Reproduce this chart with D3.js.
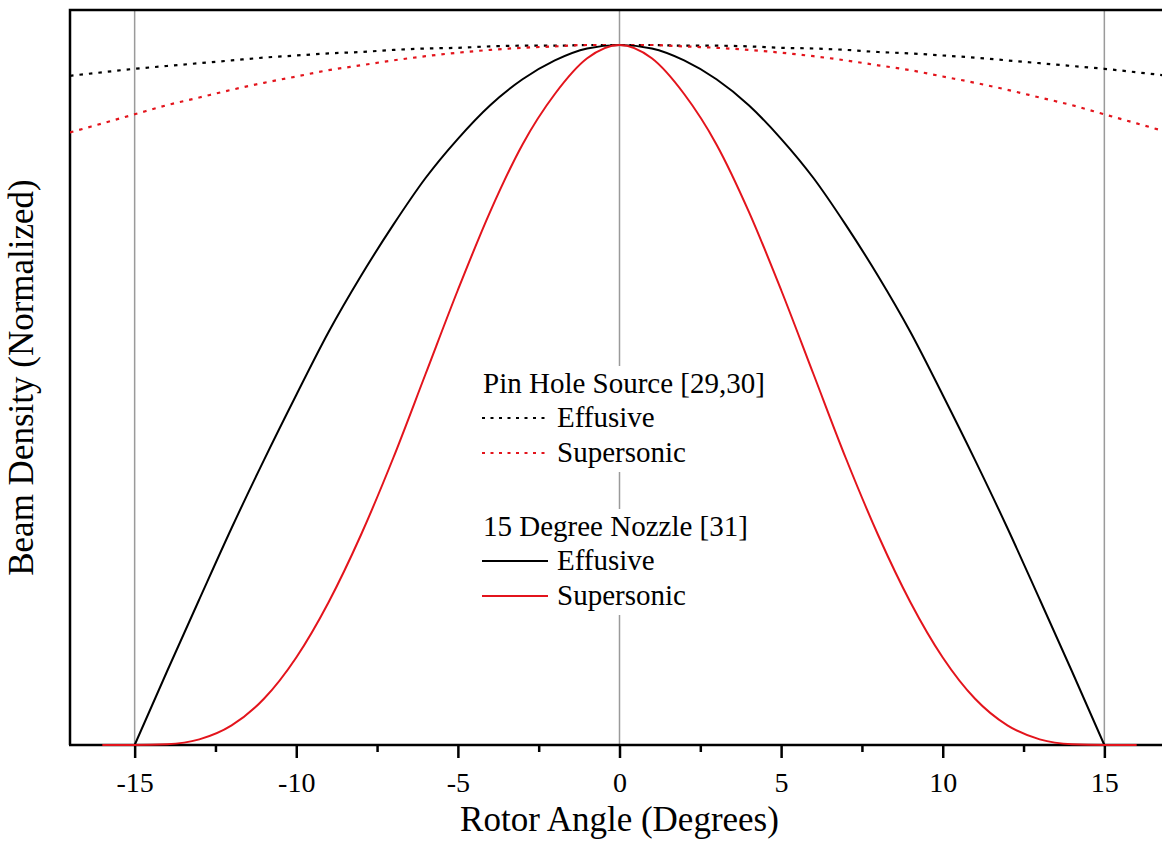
<!DOCTYPE html>
<html>
<head>
<meta charset="utf-8">
<script src="https://cdn.jsdelivr.net/npm/d3@7"></script>
<style>
  body { margin: 0; background: #fff; }
  svg { display: block; font-family: "Liberation Serif", "Times New Roman", serif; }
  svg text { font-family: "Liberation Serif", "Times New Roman", serif; }
</style>
</head>
<body>
<svg id="chart" width="1162" height="846"></svg>
<script>
// values (normalized beam density vs rotor angle)
const pinAngles = [-17, -16, -15, -14, -13, -12, -11, -10, -9, -8, -7, -6, -5, -4, -3, -2, -1, 0,
                   1, 2, 3, 4, 5, 6, 7, 8, 9, 10, 11, 12, 13, 14, 15, 16, 17];
const pinEffusive = [0.956, 0.961, 0.966, 0.970, 0.974, 0.978, 0.982, 0.985, 0.988, 0.990, 0.993, 0.995, 0.996, 0.998, 0.999, 0.999, 1.0, 1.0,
                     1.0, 0.999, 0.999, 0.998, 0.996, 0.995, 0.993, 0.990, 0.988, 0.985, 0.982, 0.978, 0.974, 0.970, 0.966, 0.961, 0.956];
const pinSupersonic = [0.875, 0.888, 0.901, 0.914, 0.925, 0.936, 0.946, 0.955, 0.964, 0.971, 0.978, 0.984, 0.989, 0.993, 0.996, 0.998, 1.0, 1.0,
                       1.0, 0.998, 0.996, 0.993, 0.989, 0.984, 0.978, 0.971, 0.964, 0.955, 0.946, 0.936, 0.925, 0.914, 0.901, 0.888, 0.875];

const nozEffAngles = [-15, -14, -13, -12, -11, -10, -9, -8, -7, -6, -5, -4, -3, -2, -1, 0,
                      1, 2, 3, 4, 5, 6, 7, 8, 9, 10, 11, 12, 13, 14, 15];
const nozEffusive = [0, 0.105, 0.208, 0.31, 0.407, 0.5, 0.59, 0.67, 0.743, 0.81, 0.866, 0.914, 0.951, 0.978, 0.995, 1.0,
                     0.995, 0.978, 0.951, 0.914, 0.866, 0.81, 0.743, 0.67, 0.59, 0.5, 0.407, 0.31, 0.208, 0.105, 0];

const nozSupAngles = [-16, -15, -14, -13, -12, -11, -10, -9, -8, -7, -6, -5, -4, -3, -2, -1, 0,
                      1, 2, 3, 4, 5, 6, 7, 8, 9, 10, 11, 12, 13, 14, 15, 16];
const nozSupersonic = [0, 0, 0.001, 0.008, 0.028, 0.066, 0.125, 0.204, 0.30, 0.41, 0.53, 0.65, 0.762, 0.858, 0.93, 0.981, 1.0,
                       0.981, 0.93, 0.858, 0.762, 0.65, 0.53, 0.41, 0.30, 0.204, 0.125, 0.066, 0.028, 0.008, 0.001, 0, 0];

const xTicks = [-15, -10, -5, 0, 5, 10, 15];
const xMinorTicks = [-12.5, -7.5, -2.5, 2.5, 7.5, 12.5];
const refLines = [-15, 0, 15];

const RED = "#e3141c";
const SERIF = "'Liberation Serif', 'Times New Roman', serif";

const svg = d3.select("#chart");
const x = d3.scaleLinear().domain([-17, 17]).range([70, 1169]);
const y = d3.scaleLinear().domain([0, 1.05]).range([745, 10]);

svg.append("defs").append("clipPath").attr("id", "plot-clip")
  .append("rect").attr("x", x(-17)).attr("y", y(1.05)).attr("width", x(17) - x(-17)).attr("height", y(0) - y(1.05) + 2);

// grey reference lines
svg.selectAll("line.ref").data(refLines).enter().append("line")
  .attr("class", "ref")
  .attr("x1", d => x(d)).attr("x2", d => x(d))
  .attr("y1", y(1.05)).attr("y2", y(0))
  .attr("stroke", "#9a9a9a").attr("stroke-width", 1.5);

// bottom axis with major + minor ticks
const xAxis = svg.append("g").attr("transform", `translate(0,${y(0)})`)
  .call(d3.axisBottom(x).tickValues(xTicks).tickSize(13).tickPadding(14).tickFormat(d3.format("d")))
  .attr("font-family", SERIF).attr("font-size", 28);
xAxis.select(".domain").remove();
xAxis.selectAll(".tick line").attr("stroke", "#000").attr("stroke-width", 2.5);
xAxis.selectAll(".tick text").attr("fill", "#000")
  .style("font-family", SERIF).style("font-size", "28px")
  .text(d => d < 0 ? "-" + Math.abs(d) : d);

const xMinor = svg.append("g").attr("transform", `translate(0,${y(0)})`)
  .call(d3.axisBottom(x).tickValues(xMinorTicks).tickSize(7).tickFormat(""));
xMinor.select(".domain").remove();
xMinor.selectAll(".tick line").attr("stroke", "#000").attr("stroke-width", 2.5);

// frame: left, top, bottom
svg.append("path")
  .attr("d", `M${x(-17)},${y(0)} L${x(-17)},${y(1.05)} L${x(17)},${y(1.05)}`)
  .attr("fill", "none").attr("stroke", "#000").attr("stroke-width", 2.5);
svg.append("line")
  .attr("x1", x(-17) - 1).attr("x2", x(17)).attr("y1", y(0)).attr("y2", y(0))
  .attr("stroke", "#000").attr("stroke-width", 2.5);

// curves
const plot = svg.append("g").attr("clip-path", "url(#plot-clip)");
const line = d3.line().x(d => x(d[0])).y(d => y(d[1])).curve(d3.curveMonotoneX);
const zip = (a, b) => a.map((v, i) => [v, b[i]]);

const series = [
  { name: "pinEff", pts: zip(pinAngles, pinEffusive), color: "#000", dash: "3.5,6" },
  { name: "pinSup", pts: zip(pinAngles, pinSupersonic), color: RED, dash: "3.5,6" },
  { name: "nozEff", pts: zip(nozEffAngles, nozEffusive), color: "#000", dash: null },
  { name: "nozSup", pts: zip(nozSupAngles, nozSupersonic), color: RED, dash: null }
];

series.forEach(s => {
  plot.append("path")
    .datum(s.pts)
    .attr("d", line)
    .attr("fill", "none")
    .attr("stroke", s.color)
    .attr("stroke-width", s.dash ? 2.2 : 2)
    .attr("stroke-dasharray", s.dash);
});

// legends (two boxes with white background)
const legends = [
  { title: "Pin Hole Source [29,30]", top: 366, items: [
    { label: "Effusive", color: "#000", dash: "3.5,6" },
    { label: "Supersonic", color: RED, dash: "3.5,6" }] },
  { title: "15 Degree Nozzle [31]", top: 509, items: [
    { label: "Effusive", color: "#000", dash: null },
    { label: "Supersonic", color: RED, dash: null }] }
];

legends.forEach(lg => {
  const g = svg.append("g").attr("transform", `translate(478,${lg.top})`);
  g.append("rect").attr("x", 0).attr("y", 0).attr("width", 292).attr("height", 106).attr("fill", "#fff");
  g.append("text").attr("x", 5).attr("y", 27).attr("font-size", 29).attr("fill", "#000").text(lg.title);
  lg.items.forEach((it, i) => {
    const yy = 61 + i * 35;
    g.append("line")
      .attr("x1", 4).attr("x2", 70).attr("y1", yy - 9).attr("y2", yy - 9)
      .attr("stroke", it.color).attr("stroke-width", it.dash ? 1.8 : 2)
      .attr("stroke-dasharray", it.dash ? "3,5.5" : null);
    g.append("text").attr("x", 79).attr("y", yy).attr("font-size", 29).attr("fill", "#000").text(it.label);
  });
});

// axis titles
svg.append("text")
  .attr("x", x(0)).attr("y", 831)
  .attr("text-anchor", "middle").attr("font-size", 35).attr("fill", "#000")
  .text("Rotor Angle (Degrees)");

svg.append("text")
  .attr("transform", `translate(33,${(y(0) + y(1.05)) / 2}) rotate(-90)`)
  .attr("text-anchor", "middle").attr("font-size", 35).attr("fill", "#000")
  .text("Beam Density (Normalized)");
</script>
</body>
</html>
